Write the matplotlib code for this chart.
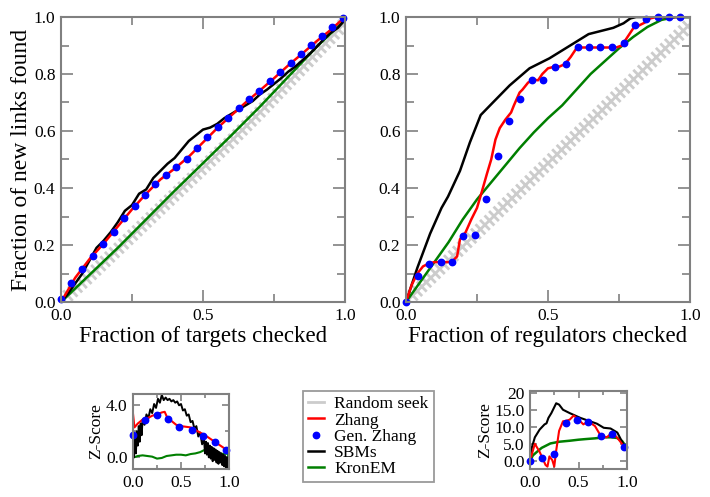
import matplotlib
matplotlib.use("Agg")
import matplotlib.pyplot as plt
import matplotlib.patheffects as pe
from matplotlib.ticker import MultipleLocator, FixedLocator, FixedFormatter
from matplotlib.lines import Line2D

plt.rcParams['font.family'] = ['Liberation Serif', 'DejaVu Serif']

# ---------------- Top-left: targets ----------------
tl_rand_x = [0, 0.1, 0.2, 0.3, 0.4, 0.5, 0.6, 0.7, 0.8, 0.9, 1.0]
tl_rand_y = [0, 0.09, 0.185, 0.28, 0.375, 0.47, 0.565, 0.665, 0.77, 0.875, 0.98]

tl_zhang_x = [0, 0.05, 0.1, 0.15, 0.2, 0.25, 0.3, 0.35, 0.4, 0.45, 0.5, 0.55, 0.6,
              0.65, 0.7, 0.75, 0.8, 0.85, 0.9, 0.95, 1.0]
tl_zhang_y = [0, 0.085, 0.15, 0.205, 0.265, 0.325, 0.38, 0.43, 0.468, 0.51, 0.56, 0.61,
              0.655, 0.70, 0.742, 0.785, 0.83, 0.872, 0.915, 0.955, 1.0]

tl_gen_x = [0, 0.035, 0.073, 0.111, 0.148, 0.186, 0.223, 0.26, 0.295, 0.331, 0.369, 0.406,
            0.442, 0.479, 0.515, 0.553, 0.589, 0.625, 0.662, 0.698, 0.736, 0.772, 0.809,
            0.845, 0.881, 0.918, 0.955, 0.993]
tl_gen_y = [0.01, 0.066, 0.115, 0.163, 0.204, 0.244, 0.294, 0.336, 0.375, 0.415, 0.447, 0.472,
            0.503, 0.542, 0.578, 0.614, 0.647, 0.680, 0.711, 0.741, 0.774, 0.807, 0.837,
            0.870, 0.902, 0.933, 0.965, 0.998]

tl_sbm_x = [0, 0.025, 0.05, 0.075, 0.1, 0.125, 0.15, 0.175, 0.2, 0.225, 0.25, 0.275, 0.3,
            0.325, 0.35, 0.375, 0.4, 0.425, 0.45, 0.475, 0.5, 0.525, 0.55, 0.575, 0.6,
            0.625, 0.65, 0.675, 0.7, 0.725, 0.75, 0.775, 0.8, 0.825, 0.85, 0.875, 0.9,
            0.925, 0.95, 0.975, 1.0]
tl_sbm_y = [0, 0.03, 0.065, 0.10, 0.145, 0.19, 0.215, 0.245, 0.28, 0.32, 0.34, 0.38, 0.395,
            0.435, 0.46, 0.485, 0.505, 0.535, 0.565, 0.585, 0.605, 0.612, 0.625, 0.645, 0.66,
            0.675, 0.69, 0.705, 0.728, 0.745, 0.765, 0.785, 0.808, 0.826, 0.848, 0.87, 0.895,
            0.922, 0.945, 0.962, 0.99]

tl_kron_x = [0, 0.1, 0.2, 0.3, 0.4, 0.5, 0.6, 0.7, 0.8, 0.9, 1.0]
tl_kron_y = [0, 0.095, 0.19, 0.29, 0.39, 0.487, 0.585, 0.685, 0.79, 0.895, 0.99]

# ---------------- Top-right: regulators ----------------
tr_rand_x = [0, 0.1, 0.2, 0.3, 0.4, 0.5, 0.6, 0.7, 0.8, 0.9, 1.0]
tr_rand_y = [0, 0.097, 0.195, 0.292, 0.39, 0.487, 0.585, 0.682, 0.78, 0.877, 0.975]

tr_zhang_x = [0, 0.02, 0.04, 0.06, 0.08, 0.10, 0.12, 0.14, 0.16, 0.18, 0.19, 0.21, 0.23,
              0.25, 0.267, 0.285, 0.30, 0.315, 0.33, 0.35, 0.37, 0.38, 0.40, 0.41, 0.43,
              0.45, 0.465, 0.48, 0.50, 0.52, 0.54, 0.56, 0.58, 0.60, 0.62, 0.66, 0.70,
              0.74, 0.76, 0.78, 0.80, 0.82, 0.84, 0.86, 0.88, 0.97]
tr_zhang_y = [0, 0.06, 0.10, 0.125, 0.135, 0.14, 0.14, 0.14, 0.14, 0.16, 0.22, 0.245, 0.29,
              0.33, 0.387, 0.45, 0.50, 0.57, 0.61, 0.64, 0.665, 0.69, 0.735, 0.745, 0.77,
              0.78, 0.778, 0.80, 0.82, 0.825, 0.826, 0.835, 0.86, 0.89, 0.893, 0.893, 0.893,
              0.893, 0.90, 0.93, 0.96, 0.97, 0.98, 0.995, 1.0, 1.0]

tr_gen_x = [0, 0.042, 0.082, 0.122, 0.162, 0.202, 0.243, 0.283, 0.323, 0.363, 0.403, 0.443,
            0.484, 0.524, 0.564, 0.604, 0.644, 0.684, 0.725, 0.766, 0.806, 0.846, 0.886,
            0.926, 0.966]
tr_gen_y = [0, 0.091, 0.132, 0.141, 0.141, 0.232, 0.234, 0.360, 0.512, 0.635, 0.711, 0.779,
            0.779, 0.826, 0.834, 0.895, 0.895, 0.895, 0.895, 0.910, 0.971, 0.992, 1.0,
            1.0, 1.0]

tr_sbm_x = [0, 0.04, 0.085, 0.125, 0.148, 0.19, 0.225, 0.263, 0.306, 0.365, 0.435, 0.505,
            0.57, 0.643, 0.73, 0.766, 0.79, 0.81, 1.0]
tr_sbm_y = [0, 0.12, 0.24, 0.33, 0.37, 0.46, 0.56, 0.656, 0.70, 0.76, 0.82, 0.855,
            0.895, 0.94, 0.962, 0.978, 0.995, 1.0, 1.0]

tr_kron_x = [0, 0.05, 0.1, 0.15, 0.2, 0.25, 0.3, 0.35, 0.4, 0.45, 0.5, 0.55, 0.6, 0.65,
             0.7, 0.75, 0.8, 0.85, 0.9, 0.95, 1.0]
tr_kron_y = [0, 0.07, 0.14, 0.21, 0.29, 0.36, 0.42, 0.48, 0.54, 0.595, 0.645, 0.69, 0.745,
             0.80, 0.845, 0.89, 0.93, 0.965, 0.99, 1.0, 1.0]

# ---------------- Bottom-left: Z-score targets ----------------
bl_zhang_x = [0, 0.015, 0.05, 0.1, 0.15, 0.2, 0.25, 0.3, 0.33, 0.36, 0.4, 0.45, 0.5, 0.55,
              0.6, 0.65, 0.7, 0.75, 0.8, 0.85, 0.9, 0.95, 1.0]
bl_zhang_y = [3.35, 2.3, 2.6, 2.9, 3.0, 3.2, 3.3, 3.45, 3.5, 3.0, 2.8, 2.5, 2.4, 2.35,
              2.3, 2.1, 1.9, 1.7, 1.45, 1.2, 0.95, 0.7, 0.35]
bl_gen_x = [0.003, 0.125, 0.247, 0.36, 0.48, 0.61, 0.73, 0.85, 0.965]
bl_gen_y = [1.74, 2.85, 3.23, 2.95, 2.33, 2.13, 1.67, 1.2, 0.54]
bl_sbm_x = [0.00, 0.01, 0.02, 0.03, 0.04, 0.05, 0.06, 0.07, 0.08, 0.09, 0.10, 0.12, 0.14,
            0.16, 0.18, 0.20, 0.22, 0.24, 0.26, 0.28, 0.30, 0.32, 0.34, 0.36, 0.38, 0.40,
            0.42, 0.44, 0.46, 0.48, 0.50, 0.52, 0.54, 0.56, 0.58, 0.60, 0.62, 0.64, 0.66,
            0.68, 0.70, 0.72, 0.74, 0.75, 0.76, 0.77, 0.78, 0.79, 0.80, 0.81, 0.82, 0.83,
            0.84, 0.85, 0.86, 0.87, 0.88, 0.89, 0.90, 0.91, 0.92, 0.93, 0.94, 0.95, 0.96,
            0.97, 0.98, 0.99, 1.00]
bl_sbm_y = [1.0, 0.0, 1.6, 0.3, 2.0, 0.9, 2.4, 1.2, 2.6, 1.7, 2.9, 2.5, 3.3,
            3.0, 3.7, 3.4, 4.1, 3.8, 4.5, 4.2, 4.8, 4.4, 4.6, 4.4, 4.5, 4.3,
            4.4, 4.2, 4.3, 4.0, 4.1, 3.6, 3.7, 3.2, 3.3, 2.7, 2.8, 2.2, 2.4,
            1.6, 1.9, 1.0, 1.4, 0.3, 1.2, 0.2, 1.1, 0.0, 0.9, -0.1, 0.8, -0.3,
            0.7, -0.2, 0.6, -0.4, 0.5, -0.5, 0.4, -0.4, 0.3, -0.6, 0.2, -0.7, 0.1,
            -0.8, 0.0, -0.9, -1.0]
bl_kron_x = [0, 0.01, 0.05, 0.1, 0.15, 0.2, 0.25, 0.3, 0.35, 0.4, 0.45, 0.5, 0.55, 0.6,
             0.65, 0.7, 0.74, 0.78, 0.82, 0.86, 0.9, 0.95, 0.99, 1.0]
bl_kron_y = [0.7, 0.0, 0.1, 0.15, 0.1, 0.05, -0.1, -0.05, 0.1, 0.15, 0.2, 0.2, 0.15, 0.25,
             0.3, 0.4, 0.55, 0.3, 0.35, 0.2, 0.3, 0.25, 0.3, -0.9]

# ---------------- Bottom-right: Z-score regulators ----------------
br_zhang_x = [0, 0.05, 0.1, 0.13, 0.16, 0.18, 0.2, 0.23, 0.25, 0.27, 0.3, 0.34, 0.38, 0.41,
              0.45, 0.5, 0.55, 0.6, 0.67, 0.73, 0.79, 0.85, 0.91, 0.97]
br_zhang_y = [0, 5, 2.6, 0.7, -1.2, -1.7, 1.3, 0.2, -1.7, 3.0, 8.8, 11.6, 11.8, 12.1,
              13.3, 12.1, 10.7, 11.6, 10.2, 7.3, 6.9, 8.3, 6.4, 4.2]
br_gen_x = [0, 0.124, 0.247, 0.368, 0.488, 0.6, 0.727, 0.85, 0.97]
br_gen_y = [0, 0.95, 2.1, 11.1, 12.1, 11.4, 7.3, 7.8, 4.2]
br_sbm_x = [0, 0.02, 0.05, 0.1, 0.12, 0.15, 0.17, 0.19, 0.22, 0.27, 0.3, 0.34, 0.41, 0.52,
            0.62, 0.69, 0.76, 0.83, 0.9, 0.97]
br_sbm_y = [0, 4, 6.9, 9.2, 9.8, 10.7, 11.0, 12.6, 14, 16.9, 16.5, 15, 14, 12.6,
            11.6, 10.9, 9.7, 9.5, 8.3, 4.5]
br_kron_x = [0, 0.03, 0.07, 0.12, 0.21, 0.3, 0.41, 0.5, 0.58, 0.67, 0.76, 0.84, 0.9, 0.95, 1.0]
br_kron_y = [0, 1.6, 2.6, 3.8, 5.1, 5.6, 5.9, 6.2, 6.4, 6.6, 6.9, 6.9, 6.7, 5.8, 3.8]

legend_labels = ["Random seek", "Zhang", "Gen. Zhang", "SBMs", "KronEM"]

C_RAND = "#cccccc"
C_RED = "#ff0000"
C_BLUE = "#0000ff"
C_BLACK = "#000000"
C_GREEN = "#007f00"
C_SPINE = "#808080"

W, H = 710, 497
fig = plt.figure(figsize=(W / 100, H / 100), dpi=100)


def box(x0, y0, x1, y1):
    return [x0 / W, (H - y1) / H, (x1 - x0) / W, (y1 - y0) / H]


def style(ax, fs=12.5, maj=8.5, mnr=5.5):
    for s in ax.spines.values():
        s.set_color(C_SPINE)
        s.set_linewidth(1.5)
    ax.tick_params(which='both', direction='in', top=True, right=True,
                   color=C_SPINE, width=1.2, labelsize=fs, pad=4)
    ax.tick_params(which='major', length=maj)
    ax.tick_params(which='minor', length=mnr)


rand_fx = [pe.Stroke(), pe.TickedStroke(angle=90, spacing=4.5, length=0.9),
           pe.TickedStroke(angle=-90, spacing=4.5, length=0.9)]

# Top-left
ax1 = fig.add_axes(box(61, 17, 345, 302))
ax1.plot(tl_rand_x, tl_rand_y, color=C_RAND, lw=2.0, path_effects=rand_fx)
ax1.plot(tl_kron_x, tl_kron_y, color=C_GREEN, lw=1.8)
ax1.plot(tl_sbm_x, tl_sbm_y, color=C_BLACK, lw=1.8)
ax1.plot(tl_zhang_x, tl_zhang_y, color=C_RED, lw=1.8)
ax1.plot(tl_gen_x, tl_gen_y, 'o', color=C_BLUE, ms=4.6, clip_on=False)
ax1.set_xlim(0, 1)
ax1.set_ylim(0, 1)
ax1.xaxis.set_major_locator(MultipleLocator(0.5))
ax1.xaxis.set_minor_locator(MultipleLocator(0.25))
ax1.yaxis.set_major_locator(MultipleLocator(0.2))
ax1.yaxis.set_minor_locator(MultipleLocator(0.1))
ax1.xaxis.set_major_formatter(lambda v, p: f"{v:.1f}")
ax1.yaxis.set_major_formatter(lambda v, p: f"{v:.1f}")
style(ax1)
ax1.set_xlabel("Fraction of targets checked", fontsize=16.5, labelpad=2)
ax1.set_ylabel("Fraction of new links found", fontsize=17, labelpad=1)

# Top-right
ax2 = fig.add_axes(box(406, 17, 690, 302))
ax2.plot(tr_rand_x, tr_rand_y, color=C_RAND, lw=2.0, path_effects=rand_fx)
ax2.plot(tr_kron_x, tr_kron_y, color=C_GREEN, lw=1.8)
ax2.plot(tr_sbm_x, tr_sbm_y, color=C_BLACK, lw=1.8)
ax2.plot(tr_zhang_x, tr_zhang_y, color=C_RED, lw=1.8)
ax2.plot(tr_gen_x, tr_gen_y, 'o', color=C_BLUE, ms=4.6, clip_on=False)
ax2.set_xlim(0, 1)
ax2.set_ylim(0, 1)
ax2.xaxis.set_major_locator(MultipleLocator(0.5))
ax2.xaxis.set_minor_locator(MultipleLocator(0.25))
ax2.yaxis.set_major_locator(MultipleLocator(0.2))
ax2.yaxis.set_minor_locator(MultipleLocator(0.1))
ax2.xaxis.set_major_formatter(lambda v, p: f"{v:.1f}")
ax2.yaxis.set_major_formatter(lambda v, p: f"{v:.1f}")
style(ax2)
ax2.set_xlabel("Fraction of regulators checked", fontsize=16.5, labelpad=2)

# Bottom-left
ax3 = fig.add_axes(box(133, 394, 229, 469))
ax3.plot(bl_kron_x, bl_kron_y, color=C_GREEN, lw=1.5)
ax3.plot(bl_sbm_x, bl_sbm_y, color=C_BLACK, lw=1.4)
ax3.plot(bl_zhang_x, bl_zhang_y, color=C_RED, lw=1.5)
ax3.plot(bl_gen_x, bl_gen_y, 'o', color=C_BLUE, ms=4.6, clip_on=False)
ax3.set_xlim(0, 1)
ax3.set_ylim(-0.9, 4.87)
ax3.xaxis.set_major_locator(MultipleLocator(0.5))
ax3.xaxis.set_minor_locator(MultipleLocator(0.25))
ax3.yaxis.set_major_locator(FixedLocator([0, 4]))
ax3.yaxis.set_minor_locator(FixedLocator([2]))
ax3.xaxis.set_major_formatter(lambda v, p: f"{v:.1f}")
ax3.yaxis.set_major_formatter(lambda v, p: f"{v:.1f}")
style(ax3, maj=5, mnr=3)
ax3.set_ylabel("Z-Score", fontsize=12.5, labelpad=1)

# Bottom-right
ax4 = fig.add_axes(box(530, 391, 627, 469))
ax4.plot(br_kron_x, br_kron_y, color=C_GREEN, lw=1.8)
ax4.plot(br_sbm_x, br_sbm_y, color=C_BLACK, lw=1.5)
ax4.plot(br_zhang_x, br_zhang_y, color=C_RED, lw=1.5)
ax4.plot(br_gen_x, br_gen_y, 'o', color=C_BLUE, ms=4.6, clip_on=False)
ax4.set_xlim(0, 1)
ax4.set_ylim(-2.4, 20.5)
ax4.xaxis.set_major_locator(MultipleLocator(0.5))
ax4.xaxis.set_minor_locator(MultipleLocator(0.25))
ax4.yaxis.set_major_locator(FixedLocator([0, 5, 10, 15, 20]))
ax4.yaxis.set_major_formatter(FixedFormatter(["0.0", "5.0", "10.0", "15.0", "20"]))
ax4.xaxis.set_major_formatter(lambda v, p: f"{v:.1f}")
style(ax4, maj=5, mnr=3)
ax4.set_ylabel("Z-Score", fontsize=12.5, labelpad=1)

# Legend
handles = [Line2D([], [], color=C_RAND, lw=2.0),
           Line2D([], [], color=C_RED, lw=1.8),
           Line2D([], [], ls='none', marker='o', color=C_BLUE, ms=4.6),
           Line2D([], [], color=C_BLACK, lw=1.8),
           Line2D([], [], color=C_GREEN, lw=1.8)]
leg = fig.legend(handles, legend_labels, loc='upper left',
                 bbox_to_anchor=(303 / W, (H - 391) / H), borderaxespad=0,
                 fontsize=12.5, frameon=True, fancybox=False, handlelength=0.9,
                 handletextpad=0.6, labelspacing=0.0, borderpad=0.3)
leg.get_frame().set_edgecolor(C_SPINE)
leg.get_frame().set_linewidth(1.3)

fig.savefig("out.png", dpi=100)
